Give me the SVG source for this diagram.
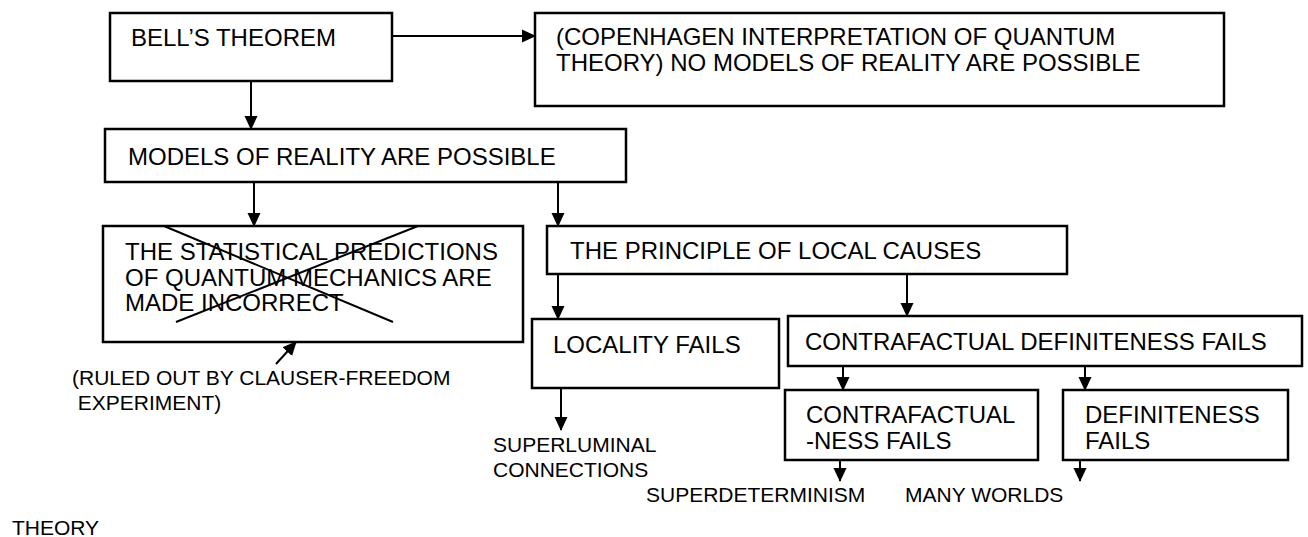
<svg xmlns="http://www.w3.org/2000/svg" width="1308" height="537" viewBox="0 0 1308 537">
<defs>
<marker id="ah" markerWidth="14" markerHeight="14" refX="13" refY="7" orient="auto" markerUnits="userSpaceOnUse">
<path d="M0,0.5 L14,7 L0,13.5 Z" fill="#000"/>
</marker>
<style>
.box{fill:#fff;stroke:#000;stroke-width:2.5}
.t{font-family:"Liberation Sans",Arial,sans-serif;font-size:24px;fill:#000}
.s{font-family:"Liberation Sans",Arial,sans-serif;font-size:21px;fill:#000}
.c{stroke:#000;stroke-width:2;fill:none}
</style>
</defs>
<rect width="1308" height="537" fill="#fff"/>
<g id="connectors">
<line class="c" x1="392" y1="36" x2="535" y2="36" marker-end="url(#ah)"/>
<line class="c" x1="251" y1="81" x2="251" y2="129" marker-end="url(#ah)"/>
<line class="c" x1="254" y1="182" x2="254" y2="226" marker-end="url(#ah)"/>
<line class="c" x1="558" y1="182" x2="558" y2="226" marker-end="url(#ah)"/>
<line class="c" x1="558" y1="274" x2="558" y2="319" marker-end="url(#ah)"/>
<line class="c" x1="907" y1="274" x2="907" y2="316" marker-end="url(#ah)"/>
<line class="c" x1="843" y1="366" x2="843" y2="390" marker-end="url(#ah)"/>
<line class="c" x1="1085" y1="366" x2="1085" y2="390" marker-end="url(#ah)"/>
<line class="c" x1="561" y1="388" x2="561" y2="430" marker-end="url(#ah)"/>
<line class="c" x1="840" y1="456" x2="840" y2="481" marker-end="url(#ah)"/>
<line class="c" x1="1080" y1="456" x2="1080" y2="481" marker-end="url(#ah)"/>
<line class="c" x1="276" y1="364" x2="296" y2="342" marker-end="url(#ah)"/>
</g>
<g id="bell">
<rect class="box" x="110" y="13" width="282" height="68"/>
<text class="t" x="131" y="46">BELL’S THEOREM</text>
</g>
<g id="copenhagen">
<rect class="box" x="535" y="13" width="689" height="93"/>
<text class="t" x="556" y="45">(COPENHAGEN INTERPRETATION OF QUANTUM</text>
<text class="t" x="556" y="71">THEORY) NO MODELS OF REALITY ARE POSSIBLE</text>
</g>
<g id="models">
<rect class="box" x="105" y="129" width="521" height="53"/>
<text class="t" x="128" y="165">MODELS OF REALITY ARE POSSIBLE</text>
</g>
<g id="statistical">
<rect class="box" x="103" y="226" width="420" height="116"/>
<text class="t" x="125" y="260">THE STATISTICAL PREDICTIONS</text>
<text class="t" x="125" y="286">OF QUANTUM MECHANICS ARE</text>
<text class="t" x="125" y="311">MADE INCORRECT</text>
<line class="c" x1="164" y1="226" x2="393" y2="322"/>
<line class="c" x1="418" y1="226" x2="176" y2="322"/>
</g>
<g id="ruled">
<text class="s" x="72" y="385">(RULED OUT BY CLAUSER-FREEDOM</text>
<text class="s" x="72" y="410" xml:space="preserve"> EXPERIMENT)</text>
</g>
<g id="principle">
<rect class="box" x="547" y="226" width="520" height="48"/>
<text class="t" x="570" y="259">THE PRINCIPLE OF LOCAL CAUSES</text>
</g>
<g id="locality">
<rect class="box" x="532" y="319" width="247" height="69"/>
<text class="t" x="553" y="353">LOCALITY FAILS</text>
</g>
<g id="cdfails">
<rect class="box" x="788" y="316" width="514" height="50"/>
<text class="t" x="805" y="350">CONTRAFACTUAL DEFINITENESS FAILS</text>
</g>
<g id="cfness">
<rect class="box" x="785" y="390" width="253" height="70"/>
<text class="t" x="806" y="423">CONTRAFACTUAL</text>
<text class="t" x="806" y="449">-NESS FAILS</text>
</g>
<g id="definiteness">
<rect class="box" x="1063" y="390" width="225" height="70"/>
<text class="t" x="1085" y="423">DEFINITENESS</text>
<text class="t" x="1085" y="449">FAILS</text>
</g>
<g id="superluminal">
<text class="s" x="493" y="452">SUPERLUMINAL</text>
<text class="s" x="493" y="477">CONNECTIONS</text>
</g>
<g id="superdeterminism">
<text class="s" x="646" y="502">SUPERDETERMINISM</text>
</g>
<g id="manyworlds">
<text class="s" x="905" y="502">MANY WORLDS</text>
</g>
<g id="theory">
<text class="s" x="12" y="535">THEORY</text>
</g>
</svg>
